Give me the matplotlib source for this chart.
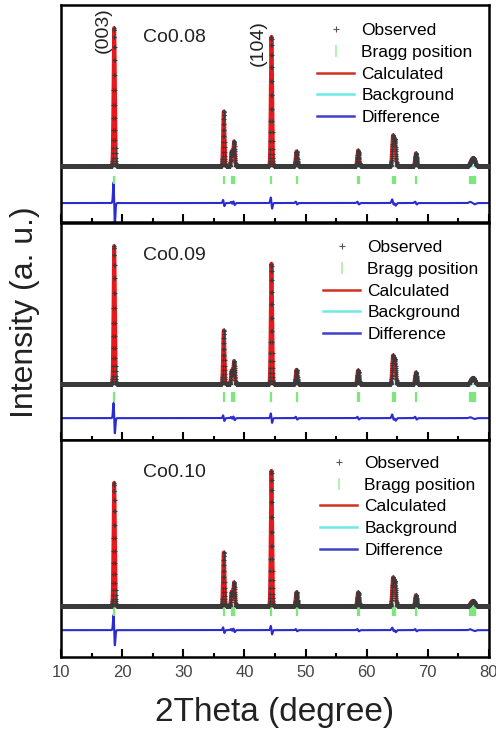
import numpy as np
import matplotlib
matplotlib.use("Agg")
import matplotlib.pyplot as plt
from matplotlib.lines import Line2D
from matplotlib.ticker import MultipleLocator

plt.rcParams["font.family"] = ["Liberation Sans", "DejaVu Sans"]

# === Peak table ===
# 2theta position (deg) and width (deg) of each reflection
peak_pos = [18.70, 36.62, 37.92, 38.30, 44.42, 48.52, 58.60, 64.30, 64.62, 68.05, 77.10, 77.50]
peak_wid = [0.11, 0.11, 0.12, 0.12, 0.11, 0.13, 0.14, 0.14, 0.14, 0.14, 0.22, 0.22]

samples = ["Co0.08", "Co0.09", "Co0.10"]

# peak heights (a. u.), one list per sample
heights_008 = [1000, 396, 110, 180, 936, 108, 115, 209, 175, 94, 35, 52]
heights_009 = [1000, 390, 100, 168, 872, 105, 101, 195, 165, 86, 28, 40]
heights_010 = [893, 389, 105, 173, 979, 101, 101, 195, 165, 80, 24, 34]
heights = [heights_008, heights_009, heights_010]

# size of the wiggle left in the difference curve at each reflection
diff_008 = [150, 22, 8, 14, 40, 10, 10, 26, 18, 10, 8, 8]
diff_009 = [110, 20, 8, 14, 34, 10, 10, 26, 18, 10, 6, 6]
diff_010 = [110, 20, 8, 14, 30, 8, 8, 18, 14, 8, 6, 6]
diffs = [diff_008, diff_009, diff_010]

# baseline, difference and Bragg tick levels per panel
background = [0, 0, -36]
diff_offset = [-266, -245, -209]
bragg_top = [-72, -58, -36]
bragg_bot = [-130, -130, -108]

bragg_pos = [18.70, 36.62, 37.92, 38.30, 44.42, 48.52, 58.52, 58.68, 64.30, 64.62, 68.05,
             76.90, 77.15, 77.45, 77.70]

hkl_labels = ["(003)", "(104)"]
hkl_x = [16.87, 42.2]
hkl_y = [0.885, 0.826]

# legend anchor per panel (axes fraction)
leg_x = [0.598, 0.612, 0.605]
leg_y = [0.917, 0.922, 0.927]

# scan grid
tt = np.arange(10, 80.001, 0.02)

fig = plt.figure(figsize=(4.96, 7.34), dpi=100)

W, H = 496.0, 734.0
panel_tops = [5, 223, 440]
ph = 217

red = "#e8191c"
cyan = "#6fe8e8"
blue = "#2b2bd0"
green = "#7be87b"

for i in range(3):
    top = panel_tops[i]
    ax = fig.add_axes([61 / W, 1 - (top + ph) / H, 428 / W, ph / H])

    calc = np.full_like(tt, background[i], dtype=float)
    diff = np.full_like(tt, diff_offset[i], dtype=float)
    for p, w, h, d in zip(peak_pos, peak_wid, heights[i], diffs[i]):
        g = np.exp(-0.5 * ((tt - p) / w) ** 2)
        calc += h * g
        diff += d * 1.65 * (-(tt - p) / w) * g
    bg = np.full_like(tt, background[i], dtype=float)

    ax.plot(tt, bg, color=cyan, lw=1.5, zorder=1)
    ax.plot(tt, calc, color=red, lw=2.8, zorder=2)
    ax.plot(tt, calc, ls="none", marker="+", ms=3.2, mew=0.8, color="#3a3a3a", zorder=3)
    ax.plot(tt, diff, color=blue, lw=1.5, zorder=2)
    ax.vlines(bragg_pos, bragg_bot[i], bragg_top[i], color=green, lw=1.6, zorder=2)

    ax.set_xlim(10, 80)
    ax.set_ylim(-403, 1166)
    ax.set_yticks([])
    ax.xaxis.set_major_locator(MultipleLocator(10))
    ax.xaxis.set_minor_locator(MultipleLocator(5))
    ax.tick_params(axis="x", which="both", direction="in", top=False, width=1.5,
                   labelsize=12, labelcolor="#444444", pad=6)
    ax.tick_params(axis="x", which="major", length=6)
    ax.tick_params(axis="x", which="minor", length=3)
    if i < 2:
        ax.tick_params(axis="x", labelbottom=False)
    for s in ax.spines.values():
        s.set_linewidth(1.8)

    ax.text(0.192, 0.849, samples[i], transform=ax.transAxes, fontsize=14,
            va="center", ha="left", color="#222222")

    if i == 0:
        for lab, x, y in zip(hkl_labels, hkl_x, hkl_y):
            ax.text(x, y, lab, transform=ax.get_xaxis_transform(), rotation=90,
                    fontsize=14, ha="center", va="center", color="#222222")

    handles = [
        Line2D([], [], ls="none", marker="+", ms=4, mew=0.8, color="#555555"),
        Line2D([], [], ls="none", marker="|", ms=9, mew=1.5, color="#b5f0b5"),
        Line2D([], [], color="#d03020", lw=1.8),
        Line2D([], [], color=cyan, lw=1.8),
        Line2D([], [], color="#4040c8", lw=1.8),
    ]
    labels = ["Observed", "Bragg position", "Calculated", "Background", "Difference"]
    ax.legend(handles, labels, loc="upper left", bbox_to_anchor=(leg_x[i], leg_y[i]),
              frameon=False, fontsize=12.5, handlelength=2.15, handletextpad=0.4,
              labelspacing=0.38, borderpad=0, borderaxespad=0)

fig.text(275 / W, 1 - 712 / H, "2Theta (degree)", fontsize=24, ha="center", va="center",
         color="#222222")
fig.text(25 / W, 1 - 312 / H, "Intensity (a. u.)", fontsize=23, rotation=90,
         ha="center", va="center", color="#222222")

fig.savefig("out.png", dpi=100)
